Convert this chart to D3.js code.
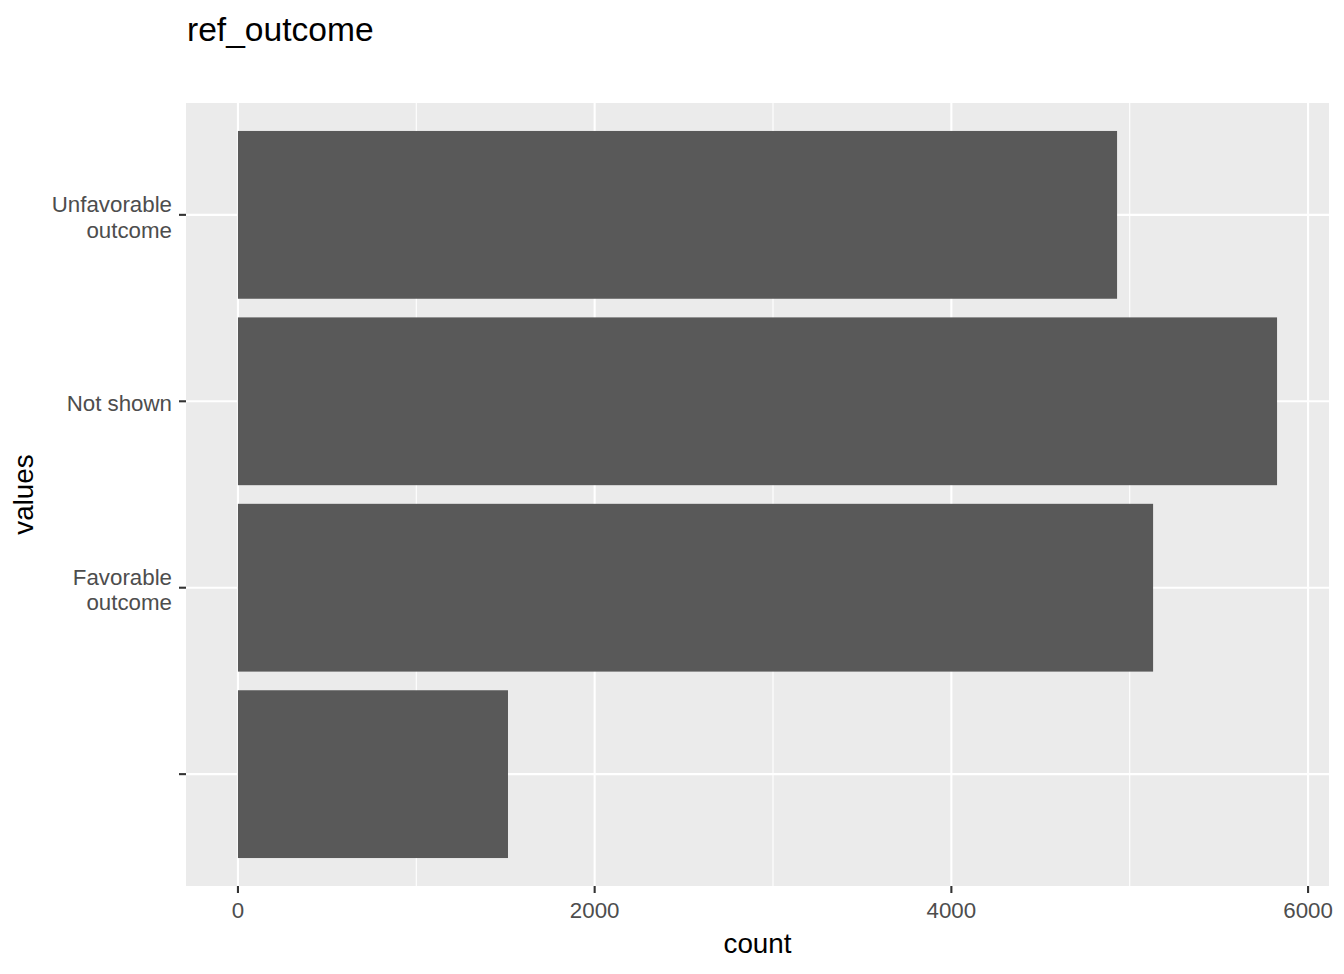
<!DOCTYPE html>
<html>
<head>
<meta charset="utf-8">
<script src="https://cdn.jsdelivr.net/npm/d3@7"></script>
<style>
  body { margin: 0; background: #fff; }
  svg text { font-family: "Liberation Sans", Arial, sans-serif; }
</style>
</head>
<body>
<div id="chart"></div>
<script>
// categories from top to bottom, and their counts
const categories = ["Unfavorable\noutcome", "Not shown", "Favorable\noutcome", ""];
const counts = [4929, 5826, 5131, 1514];
const xTicks = [0, 2000, 4000, 6000];
const xMinor = [1000, 3000, 5000];

const width = 1344;
const height = 974;

// panel box
const panel = { left: 186, right: 1329, top: 103, bottom: 886 };

const data = categories.map((c, i) => ({ cat: c, value: counts[i] }));

// continuous x with ggplot-like 5% expansion
const xMax = d3.max(counts);
const xScale = d3.scaleLinear()
    .domain([-xMax * 0.05, xMax * 1.05])
    .range([panel.left, panel.right]);

// discrete y, 0.6 unit expansion each side
const yScale = d3.scalePoint()
    .domain(categories)
    .range([panel.top, panel.bottom])
    .padding(0.6);
const step = yScale.step();
const barH = step * 0.9;

const svg = d3.select("#chart").append("svg")
    .attr("width", width)
    .attr("height", height);

// panel background
svg.append("rect")
    .attr("x", panel.left)
    .attr("y", panel.top)
    .attr("width", panel.right - panel.left)
    .attr("height", panel.bottom - panel.top)
    .attr("fill", "#EBEBEB");

// minor grid
svg.selectAll("line.minor")
    .data(xMinor)
    .enter().append("line")
    .attr("x1", d => xScale(d)).attr("x2", d => xScale(d))
    .attr("y1", panel.top).attr("y2", panel.bottom)
    .attr("stroke", "#fff").attr("stroke-width", 1.1);

// major grid
svg.selectAll("line.majorx")
    .data(xTicks)
    .enter().append("line")
    .attr("x1", d => xScale(d)).attr("x2", d => xScale(d))
    .attr("y1", panel.top).attr("y2", panel.bottom)
    .attr("stroke", "#fff").attr("stroke-width", 2.1);

svg.selectAll("line.majory")
    .data(categories)
    .enter().append("line")
    .attr("x1", panel.left).attr("x2", panel.right)
    .attr("y1", d => yScale(d)).attr("y2", d => yScale(d))
    .attr("stroke", "#fff").attr("stroke-width", 2.1);

// bars
svg.selectAll("rect.bar")
    .data(data)
    .enter().append("rect")
    .attr("class", "bar")
    .attr("x", xScale(0))
    .attr("y", d => yScale(d.cat) - barH / 2)
    .attr("width", d => xScale(d.value) - xScale(0))
    .attr("height", barH)
    .attr("fill", "#595959");

// x axis ticks + labels
const xAxis = svg.append("g");
xAxis.selectAll("line")
    .data(xTicks)
    .enter().append("line")
    .attr("x1", d => xScale(d)).attr("x2", d => xScale(d))
    .attr("y1", panel.bottom).attr("y2", panel.bottom + 7)
    .attr("stroke", "#333333").attr("stroke-width", 2.1);
xAxis.selectAll("text")
    .data(xTicks)
    .enter().append("text")
    .attr("x", d => xScale(d))
    .attr("y", 918)
    .attr("text-anchor", "middle")
    .attr("font-size", 22.3)
    .attr("fill", "#4D4D4D")
    .text(d => d);

// y axis ticks + labels
const yAxis = svg.append("g");
yAxis.selectAll("line")
    .data(categories)
    .enter().append("line")
    .attr("x1", panel.left - 7).attr("x2", panel.left)
    .attr("y1", d => yScale(d)).attr("y2", d => yScale(d))
    .attr("stroke", "#333333").attr("stroke-width", 2.1);

const lineGap = 25.5;
yAxis.selectAll("text")
    .data(categories)
    .enter().append("text")
    .attr("text-anchor", "end")
    .attr("font-size", 22.3)
    .attr("fill", "#4D4D4D")
    .each(function(d) {
        const lines = d.split("\n");
        const y0 = yScale(d) + 10 - (lines.length - 1) * lineGap / 2;
        d3.select(this).selectAll("tspan")
            .data(lines)
            .enter().append("tspan")
            .attr("x", 172)
            .attr("y", (l, i) => y0 + i * lineGap)
            .text(l => l);
    });

// title
svg.append("text")
    .attr("x", 187)
    .attr("y", 41)
    .attr("font-size", 33.6)
    .attr("fill", "#000")
    .text("ref_outcome");

// axis titles
svg.append("text")
    .attr("x", (panel.left + panel.right) / 2)
    .attr("y", 953)
    .attr("text-anchor", "middle")
    .attr("font-size", 27.8)
    .attr("fill", "#000")
    .text("count");

svg.append("text")
    .attr("transform", `translate(33,${(panel.top + panel.bottom) / 2}) rotate(-90)`)
    .attr("text-anchor", "middle")
    .attr("font-size", 27.8)
    .attr("fill", "#000")
    .text("values");
</script>
</body>
</html>
